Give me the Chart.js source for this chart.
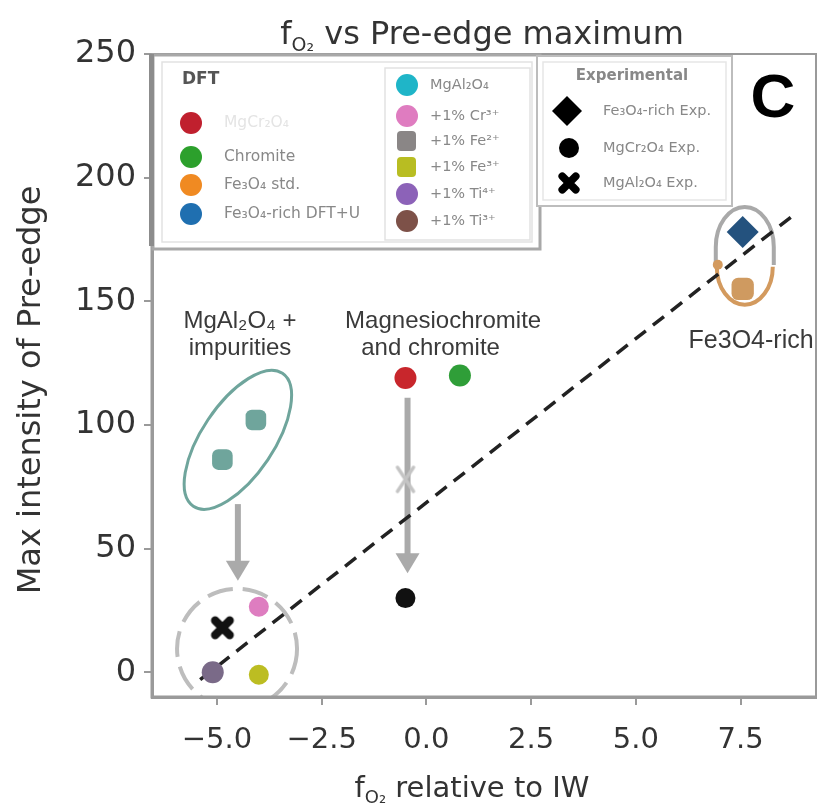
<!DOCTYPE html>
<html><head><meta charset="utf-8">
<style>html,body{margin:0;padding:0;background:#fff;overflow:hidden}</style>
<script src="https://cdn.jsdelivr.net/npm/chart.js@4.4.1/dist/chart.umd.min.js"></script>
</head><body>
<canvas id="c" width="820" height="804"></canvas>
<script>
// ---------- data ----------
const xTicks = [-5, -2.5, 0, 2.5, 5, 7.5];
const yTicks = [0, 50, 100, 150, 200, 250];

const mgcrDFT      = [{x: -0.5, y: 119}];
const chromiteDFT  = [{x: 0.8,  y: 120}];
const fe3o4DFT     = [{x: 7.55, y: 155}];
const fe3o4Exp     = [{x: 7.55, y: 178}];
const mgal2o4DFT   = [{x: -4.87, y: 86}, {x: -4.07, y: 102}];
const cr3Doped     = [{x: -4.0, y: 26.5}];
const fe3Doped     = [{x: -4.0, y: -1}];
const ti4Doped     = [{x: -5.1, y: 0}];
const mgal2o4Exp   = [{x: -4.87, y: 18}];
const mgcrExp      = [{x: -0.5, y: 30}];
const midMark      = [{x: -0.5, y: 78}];
const trendX       = [-5.4, 8.7];
const trendY       = [-3, 184];

const dftCol1 = ['MgCr₂O₄', 'Chromite', 'Fe₃O₄ std.', 'Fe₃O₄-rich DFT+U'];
const dftCol2 = ['MgAl₂O₄', '+1% Cr³⁺', '+1% Fe²⁺', '+1% Fe³⁺', '+1% Ti⁴⁺', '+1% Ti³⁺'];
const expLabels = ['Fe₃O₄-rich Exp.', 'MgCr₂O₄ Exp.', 'MgAl₂O₄ Exp.'];

// arrows: x, from y, to y (data units)
const arrows = [{x: -4.5, y1: 68, y2: 37}, {x: -0.45, y1: 111, y2: 40}];

// ---------- helpers ----------
function xMarker(size, color) {
  const c = document.createElement('canvas');
  c.width = size; c.height = size;
  const g = c.getContext('2d');
  g.strokeStyle = color; g.lineWidth = size * 0.32; g.lineCap = 'round';
  const m = size * 0.22;
  g.beginPath();
  g.moveTo(m, m); g.lineTo(size - m, size - m);
  g.moveTo(size - m, m); g.lineTo(m, size - m);
  g.stroke();
  return c;
}
const blackX = xMarker(26, '#111');
const grayX = (() => {
  const c = document.createElement('canvas');
  c.width = 24; c.height = 30;
  const g = c.getContext('2d');
  g.strokeStyle = '#c4c4c4'; g.lineWidth = 3.5; g.lineCap = 'round';
  g.beginPath(); g.moveTo(4, 3); g.lineTo(20, 27); g.moveTo(20, 3); g.lineTo(4, 27); g.stroke();
  return c;
})();

const FONT = '"DejaVu Sans", sans-serif';
const ANN = '"Liberation Sans", Arial, sans-serif';

function drawSub(ctx, parts, x, y, align) {
  let w = 0;
  parts.forEach(p => { ctx.font = p[1] + 'px ' + FONT; w += ctx.measureText(p[0]).width; });
  let cx = align === 'center' ? x - w / 2 : x;
  ctx.textAlign = 'left'; ctx.textBaseline = 'alphabetic';
  parts.forEach(p => {
    ctx.font = p[1] + 'px ' + FONT;
    ctx.fillText(p[0], cx, y + (p[2] || 0));
    cx += ctx.measureText(p[0]).width;
  });
}

const decor = {
  id: 'decor',
  beforeDatasetsDraw(chart) {
    const {ctx, chartArea: a, scales: {x, y}} = chart;
    ctx.save();
    ctx.beginPath(); ctx.rect(a.left, a.top, a.right - a.left, a.bottom - a.top); ctx.clip();
    // teal ellipse
    ctx.strokeStyle = '#6fa59c'; ctx.lineWidth = 3;
    ctx.beginPath();
    ctx.ellipse(x.getPixelForValue(-4.5), y.getPixelForValue(94), 80, 36, -0.98, 0, Math.PI * 2);
    ctx.stroke();
    // dashed gray circle
    ctx.strokeStyle = '#bdbdbd'; ctx.lineWidth = 4; ctx.setLineDash([26, 10]);
    ctx.beginPath();
    ctx.arc(x.getPixelForValue(-4.52), y.getPixelForValue(9.5), 60, 0, Math.PI * 2);
    ctx.stroke();
    ctx.setLineDash([]);
    // gray arch around diamond
    const cx = x.getPixelForValue(7.6), cyA = y.getPixelForValue(172);
    ctx.strokeStyle = '#a9a9a9'; ctx.lineWidth = 4;
    ctx.beginPath();
    ctx.moveTo(cx - 29, cyA + 18);
    ctx.lineTo(cx - 29, cyA);
    ctx.ellipse(cx, cyA, 29, 40, 0, Math.PI, Math.PI * 2);
    ctx.lineTo(cx + 29, cyA + 18);
    ctx.stroke();
    // orange U
    ctx.strokeStyle = '#d39a5e'; ctx.lineWidth = 4;
    ctx.beginPath();
    ctx.ellipse(cx, y.getPixelForValue(164), 28, 38, 0, 0, Math.PI);
    ctx.stroke();
    ctx.fillStyle = '#d39a5e';
    ctx.beginPath(); ctx.arc(cx - 27, y.getPixelForValue(164) - 2, 5, 0, Math.PI * 2); ctx.fill();
    // arrows
    ctx.strokeStyle = '#aaaaaa'; ctx.fillStyle = '#aaaaaa'; ctx.lineWidth = 6;
    arrows.forEach(ar => {
      const px = x.getPixelForValue(ar.x), p1 = y.getPixelForValue(ar.y1), p2 = y.getPixelForValue(ar.y2);
      ctx.beginPath(); ctx.moveTo(px, p1); ctx.lineTo(px, p2 - 16); ctx.stroke();
      ctx.beginPath(); ctx.moveTo(px - 12, p2 - 20); ctx.lineTo(px + 12, p2 - 20); ctx.lineTo(px, p2); ctx.closePath(); ctx.fill();
    });
    ctx.restore();
  },
  afterDraw(chart) {
    const {ctx, chartArea: a, scales: {x, y}} = chart;
    ctx.save();
    // frame
    ctx.strokeStyle = '#9a9a9a'; ctx.lineWidth = 2;
    ctx.strokeRect(a.left, a.top, a.right - a.left, a.bottom - a.top);
    ctx.lineWidth = 3;
    ctx.beginPath(); ctx.moveTo(a.left, a.top); ctx.lineTo(a.left, a.bottom); ctx.lineTo(a.right, a.bottom); ctx.stroke();

    // annotation texts
    ctx.fillStyle = '#3a3a3a'; ctx.font = '24px ' + ANN; ctx.textAlign = 'center'; ctx.textBaseline = 'middle';
    ctx.fillText('MgAl₂O₄ +', x.getPixelForValue(-4.45), y.getPixelForValue(142));
    ctx.fillText('impurities', x.getPixelForValue(-4.45), y.getPixelForValue(131));
    ctx.fillText('Magnesiochromite', x.getPixelForValue(0.4), y.getPixelForValue(142));
    ctx.fillText('and chromite', x.getPixelForValue(0.1), y.getPixelForValue(131));
    ctx.font = '25px ' + ANN;
    ctx.fillText('Fe3O4-rich', x.getPixelForValue(7.75), y.getPixelForValue(134));

    // DFT legend box
    ctx.fillStyle = '#fff';
    ctx.fillRect(a.left + 2, a.top + 2, 386, 192);
    ctx.strokeStyle = '#a8a8a8'; ctx.lineWidth = 3;
    ctx.strokeRect(a.left + 1, a.top + 1, 387, 194);
    ctx.fillStyle = '#8c8c8c'; ctx.fillRect(a.left - 3, a.top, 5, 192);
    ctx.strokeStyle = '#e2e2e2'; ctx.lineWidth = 1.5;
    ctx.strokeRect(a.left + 10, a.top + 8, 370, 180);
    ctx.strokeRect(a.left + 233, a.top + 14, 145, 172);
    ctx.fillStyle = '#555'; ctx.font = 'bold 17px ' + FONT; ctx.textAlign = 'left'; ctx.textBaseline = 'middle';
    ctx.fillText('DFT', a.left + 30, a.top + 26);
    const c1 = ['#c0202e', '#2ca02c', '#f08a22', '#1f6fb0'];
    const c1y = [123, 157, 185, 214];
    const c1txt = ['#e4e4e4', '#888', '#888', '#888'];
    ctx.font = '15.5px ' + FONT;
    dftCol1.forEach((t, i) => {
      ctx.fillStyle = c1[i];
      ctx.beginPath(); ctx.arc(191, c1y[i], 11, 0, Math.PI * 2); ctx.fill();
      ctx.fillStyle = c1txt[i];
      ctx.fillText(t, 224, c1y[i]);
    });
    const c2 = ['#1fb5c8', '#df7cc0', '#8a8686', '#b8bd22', '#8c62b8', '#7d5148'];
    const c2y = [85, 116, 141, 167, 194, 221];
    ctx.font = '14.5px ' + FONT;
    dftCol2.forEach((t, i) => {
      ctx.fillStyle = c2[i];
      ctx.beginPath();
      if (i === 2 || i === 3) { ctx.roundRect(397, c2y[i] - 10, 19, 20, 4); }
      else ctx.arc(407, c2y[i], 11, 0, Math.PI * 2);
      ctx.fill();
      ctx.fillStyle = '#888';
      ctx.fillText(t, 430, c2y[i]);
    });

    // Experimental legend box
    ctx.fillStyle = '#fff'; ctx.fillRect(537, 56, 195, 150);
    ctx.strokeStyle = '#bdbdbd'; ctx.lineWidth = 2; ctx.strokeRect(537, 56, 195, 150);
    ctx.strokeStyle = '#e6e6e6'; ctx.lineWidth = 1.5; ctx.strokeRect(543, 62, 183, 138);
    ctx.fillStyle = '#888'; ctx.font = 'bold 15px ' + FONT; ctx.textAlign = 'center';
    ctx.fillText('Experimental', 632, 76);
    ctx.textAlign = 'left'; ctx.font = '14.5px ' + FONT;
    ctx.fillStyle = '#000';
    ctx.beginPath(); ctx.moveTo(567, 96); ctx.lineTo(582, 111); ctx.lineTo(567, 126); ctx.lineTo(552, 111); ctx.closePath(); ctx.fill();
    ctx.beginPath(); ctx.arc(569, 148, 10, 0, Math.PI * 2); ctx.fill();
    ctx.drawImage(xMarker(24, '#000'), 557, 171);
    ctx.fillStyle = '#888';
    ctx.fillText(expLabels[0], 603, 111);
    ctx.fillText(expLabels[1], 603, 148);
    ctx.fillText(expLabels[2], 603, 183);

    // panel label
    ctx.fillStyle = '#000'; ctx.font = 'bold 62px ' + ANN; ctx.textAlign = 'center'; ctx.textBaseline = 'middle';
    ctx.fillText('C', 773, 100);

    // titles
    ctx.fillStyle = '#333';
    drawSub(ctx, [['f', 32], ['O₂', 19, 7], [' vs Pre-edge maximum', 32]], 482, 44, 'center');
    drawSub(ctx, [['f', 29], ['O₂', 18, 6], [' relative to IW', 29]], 472, 797, 'center');
    ctx.save();
    ctx.translate(40, 390); ctx.rotate(-Math.PI / 2);
    ctx.font = '32px ' + FONT; ctx.textAlign = 'center'; ctx.textBaseline = 'alphabetic';
    ctx.fillText('Max intensity of Pre-edge', 0, 0);
    ctx.restore();
    ctx.restore();
  }
};

const fmt = v => (v < 0 ? '−' : '') + Math.abs(v).toFixed(1);

new Chart(document.getElementById('c'), {
  type: 'scatter',
  data: {
    datasets: [
      {type: 'line', data: trendX.map((v, i) => ({x: v, y: trendY[i]})), borderColor: '#222', borderWidth: 3.5, borderDash: [14, 9], pointRadius: 0, fill: false, order: 5},
      {data: mgcrDFT, backgroundColor: '#c8262c', pointRadius: 11, order: 1},
      {data: chromiteDFT, backgroundColor: '#2f9e38', pointRadius: 11, order: 1},
      {data: fe3o4DFT, backgroundColor: '#cf9a60', pointStyle: 'rectRounded', pointRadius: 13, order: 1},
      {data: fe3o4Exp, backgroundColor: '#24527e', pointStyle: 'rectRot', pointRadius: 16, order: 1},
      {data: mgal2o4DFT, backgroundColor: '#6fa59c', pointStyle: 'rectRounded', pointRadius: 12, order: 1},
      {data: cr3Doped, backgroundColor: '#de7dc0', pointRadius: 10, order: 1},
      {data: fe3Doped, backgroundColor: '#bcbd22', pointRadius: 10, order: 1},
      {data: ti4Doped, backgroundColor: '#7a6a88', pointRadius: 11, order: 1},
      {data: mgal2o4Exp, pointStyle: blackX, order: 1},
      {data: mgcrExp, backgroundColor: '#111', pointRadius: 10, order: 1},
      {data: midMark, pointStyle: grayX, order: 1}
    ]
  },
  options: {
    responsive: false, animation: false,
    events: [],
    layout: {autoPadding: false, padding: {top: 54, right: 4, left: 0, bottom: 0}},
    plugins: {legend: {display: false}, tooltip: {enabled: false}, title: {display: false}},
    elements: {point: {borderWidth: 0}},
    scales: {
      x: {
        type: 'linear', min: -6.55, max: 9.3,
        afterBuildTicks: s => { s.ticks = xTicks.map(v => ({value: v})); },
        afterFit: s => { s.height = 107; s.paddingLeft = 0; s.paddingRight = 0; },
        ticks: {callback: v => fmt(v), font: {family: FONT, size: 29}, color: '#333', padding: 18, maxRotation: 0, autoSkip: false},
        grid: {drawOnChartArea: false, drawTicks: true, tickLength: 8, color: '#9a9a9a', lineWidth: 2},
        border: {display: true, color: '#9a9a9a', width: 3}
      },
      y: {
        type: 'linear', min: -10, max: 250,
        afterBuildTicks: s => { s.ticks = yTicks.map(v => ({value: v})); },
        afterFit: s => { s.width = 152; s.paddingTop = 0; s.paddingBottom = 0; },
        ticks: {callback: v => String(v), font: {family: FONT, size: 32}, color: '#333', padding: 8, autoSkip: false},
        grid: {drawOnChartArea: false, drawTicks: true, tickLength: 8, color: '#9a9a9a', lineWidth: 2},
        border: {display: true, color: '#9a9a9a', width: 3}
      }
    }
  },
  plugins: [decor]
});
</script>
</body></html>
